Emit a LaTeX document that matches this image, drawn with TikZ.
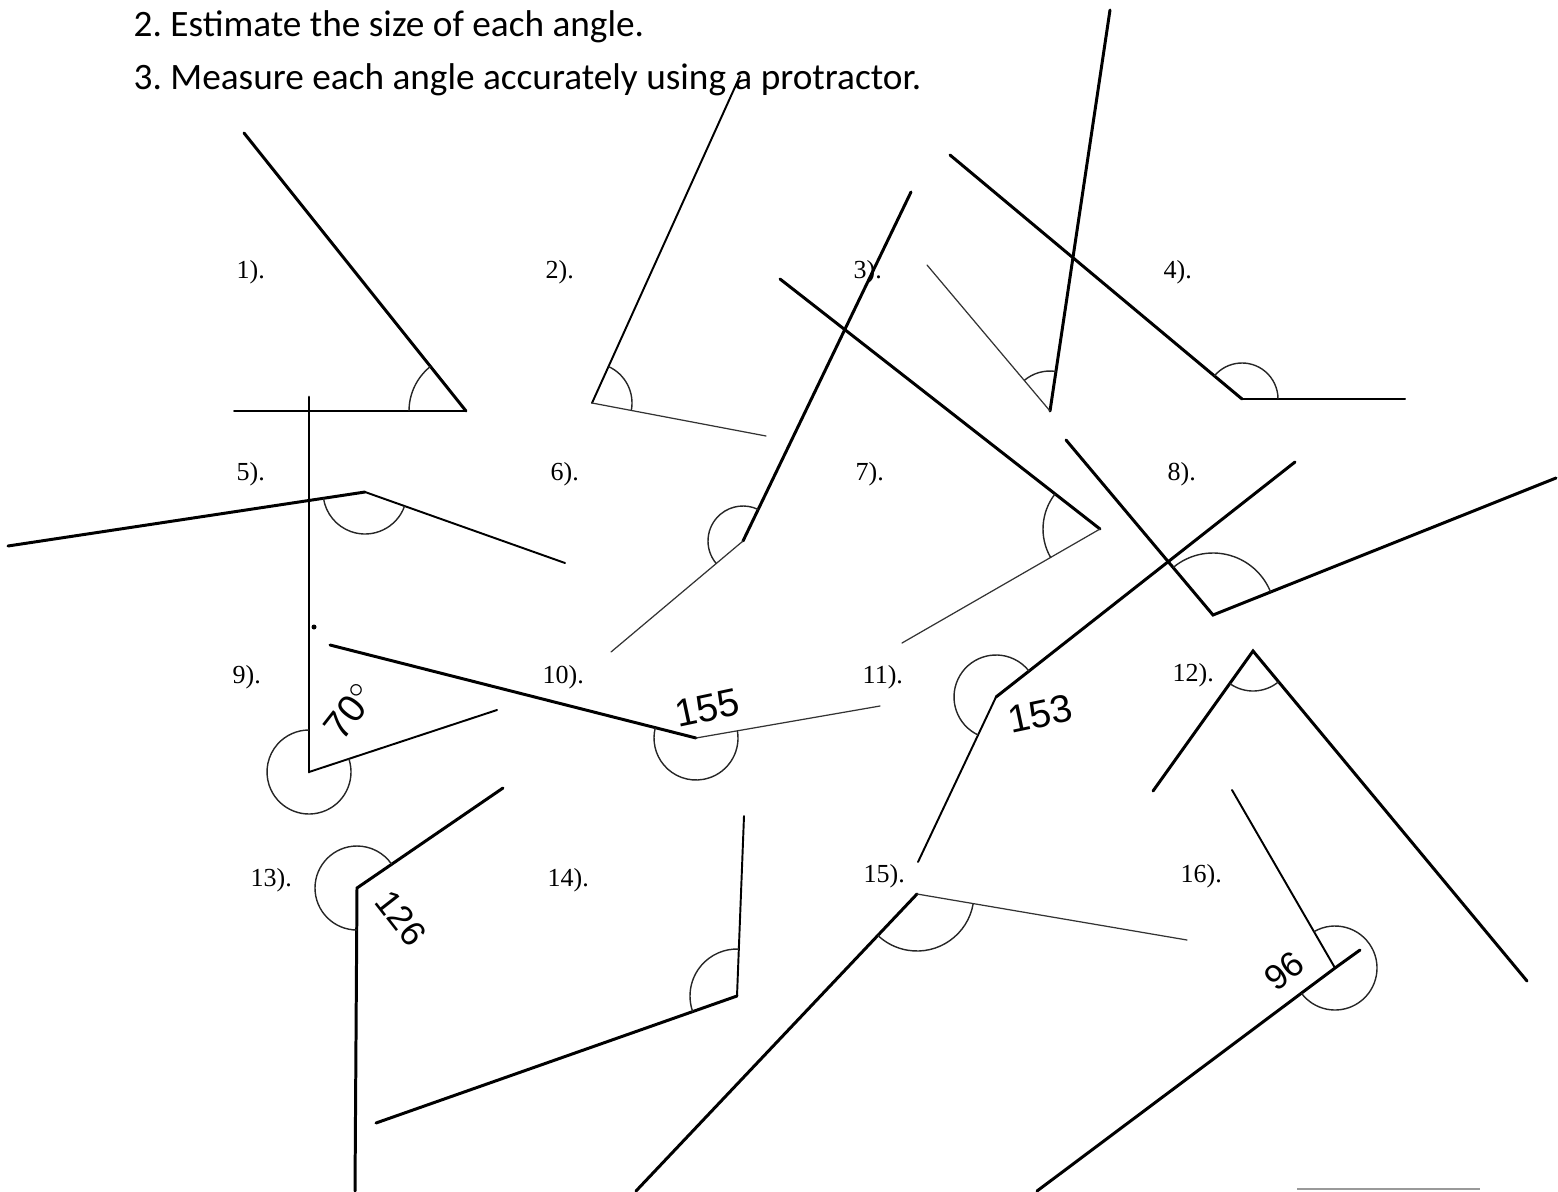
\documentclass[tikz,border=0pt]{standalone}
\usepackage{fontspec}
\newfontfamily\instrfont{Carlito}
\newfontfamily\numfont{Liberation Serif}
\newfontfamily\handfont{Liberation Sans}

\begin{document}
\begin{tikzpicture}[
  x=0.01cm, y=-0.01cm,
  thickarm/.style={draw=black, line width=0.85pt, line cap=round},
  midarm/.style={draw=black, line width=0.55pt, line cap=round},
  thinarm/.style={draw=black!80, line width=0.35pt, line cap=round},
  anglearc/.style={draw=black!85, line width=0.4pt},
  lbl/.style={font=\numfont\fontsize{7.4}{8}\selectfont, anchor=base west, inner sep=0pt},
  instr/.style={font=\instrfont\fontsize{10.6}{12}\selectfont, anchor=base west, inner sep=0pt},
  hand/.style={font=\handfont\fontsize{11}{12}\selectfont, inner sep=0pt},
]
\useasboundingbox (0,0) rectangle (1558,1191);
% ====== INSTRUCTIONS ======
\node[instr] (q2) at (133,37) {2.\ Estimate the size of each angle.};
\node[instr] (q3) at (133,90) {3.\ Measure each angle accurately using a protractor.};
%
% ====== ROW 1 ======
\node[lbl] (l1) at (236,278) {1).};
\node[lbl] (l2) at (545,278) {2).};
\node[lbl] (l3) at (853,278) {3).};
\node[lbl] (l4) at (1163,278) {4).};
\coordinate (v1) at (466,411); \coordinate (a1) at (244,133); \coordinate (b1) at (234,411);
\coordinate (v2) at (592,403); \coordinate (a2) at (740,76);  \coordinate (b2) at (766,436);
\coordinate (v3) at (1050,411); \coordinate (a3) at (1110,10); \coordinate (b3) at (927,265);
\coordinate (v4) at (1242,399); \coordinate (a4) at (950,155); \coordinate (b4) at (1405,399);
\draw[thickarm] (a1) -- (v1); \draw[midarm] (v1) -- (b1);
\draw[midarm] (a2) -- (v2); \draw[thinarm] (v2) -- (b2);
\draw[thickarm] (a3) -- (v3); \draw[thinarm] (v3) -- (b3);
\draw[thickarm] (a4) -- (v4); \draw[midarm] (v4) -- (b4);
\draw[anglearc] (v1) ++(180:57) arc[start angle=180, end angle=231.4, radius=57];
\draw[anglearc] (v2) ++(-65.6:40) arc[start angle=-65.6, end angle=10.7, radius=40];
\draw[anglearc] (v3) ++(-130.1:40) arc[start angle=-130.1, end angle=-81.5, radius=40];
\draw[anglearc] (v4) ++(-140.1:36) arc[start angle=-140.1, end angle=0, radius=36];
%
% ====== ROW 2 ======
\node[lbl] (l5) at (236,480) {5).};
\node[lbl] (l6) at (550,480) {6).};
\node[lbl] (l7) at (855,480) {7).};
\node[lbl] (l8) at (1167,480) {8).};
\coordinate (v5) at (365,492); \coordinate (a5) at (8,546);   \coordinate (b5) at (565,563);
\coordinate (v6) at (743,541); \coordinate (a6) at (911,192); \coordinate (b6) at (611,652);
\coordinate (v7) at (1100,529); \coordinate (a7) at (780,279); \coordinate (b7) at (902,643);
\coordinate (v8) at (1213,615); \coordinate (a8) at (1066,440); \coordinate (b8) at (1556,478);
\draw[thickarm] (a5) -- (v5); \draw[midarm] (v5) -- (b5);
\draw[thickarm] (a6) -- (v6); \draw[thinarm] (v6) -- (b6);
\draw[thickarm] (a7) -- (v7); \draw[thinarm] (v7) -- (b7);
\draw[thickarm] (a8) -- (v8) -- (b8);
\draw[anglearc] (v5) ++(19.5:42) arc[start angle=19.5, end angle=171.4, radius=42];
\draw[anglearc] (v6) ++(139.9:35) arc[start angle=139.9, end angle=295.7, radius=35];
\draw[anglearc] (v7) ++(150:57) arc[start angle=150, end angle=218, radius=57];
\draw[anglearc] (v8) ++(230:62) arc[start angle=230, end angle=338.2, radius=62];
%
% ====== ROW 3 ======
\node[lbl] (l9) at (232,683) {9).};
\node[lbl] (l10) at (542,683) {10).};
\node[lbl] (l11) at (862,683) {11).};
\node[lbl] (l12) at (1172,681) {12).};
\coordinate (v9) at (309,772);  \coordinate (a9) at (309,397);  \coordinate (b9) at (497,710);
\coordinate (v10) at (696,738); \coordinate (a10) at (330,645); \coordinate (b10) at (880,706);
\coordinate (v11) at (996,697); \coordinate (a11) at (1295,462); \coordinate (b11) at (918,862);
\coordinate (v12) at (1253,651); \coordinate (a12) at (1153,791); \coordinate (b12) at (1527,981);
\draw[thickarm] (a9) -- (v9); \draw[midarm] (v9) -- (b9);
\draw[thickarm] (a10) -- (v10); \draw[thinarm] (v10) -- (b10);
\draw[thickarm] (a11) -- (v11); \draw[midarm] (v11) -- (b11);
\draw[thickarm] (a12) -- (v12) -- (b12);
\draw[anglearc] (v9) ++(-18.3:42) arc[start angle=-18.3, end angle=270, radius=42];
\draw[anglearc] (v10) ++(-9.9:42) arc[start angle=-9.9, end angle=194.3, radius=42];
\draw[anglearc] (v11) ++(115.3:42) arc[start angle=115.3, end angle=321.8, radius=42];
\draw[anglearc] (v12) ++(50.3:40) arc[start angle=50.3, end angle=125.5, radius=40];
\fill (314,627) circle[radius=2.5];
\node[hand, rotate=52] (h9) at (350,711) {70$^{\circ}$};
\node[hand, rotate=12] (h10) at (707,708) {155};
\node[hand, rotate=12] (h11) at (1040,714) {153};
%
% ====== ROW 4 ======
\node[lbl] (l13) at (250,886) {13).};
\node[lbl] (l14) at (547,886) {14).};
\node[lbl] (l15) at (863,882) {15).};
\node[lbl] (l16) at (1180,882) {16).};
\coordinate (v13) at (357,888); \coordinate (a13) at (503,788); \coordinate (b13) at (355,1191);
\coordinate (v14) at (737,996); \coordinate (a14) at (744,816); \coordinate (b14) at (376,1123);
\coordinate (v15) at (917,894); \coordinate (a15) at (636,1191); \coordinate (b15) at (1187,940);
\coordinate (v16) at (1335,968); \coordinate (a16) at (1232,790); \coordinate (b16) at (1037,1191);
\coordinate (c16) at (1360,950);
\draw[thickarm] (a13) -- (v13) -- (b13);
\draw[midarm] (a14) -- (v14); \draw[thickarm] (v14) -- (b14);
\draw[thickarm] (a15) -- (v15); \draw[thinarm] (v15) -- (b15);
\draw[midarm] (a16) -- (v16); \draw[thickarm] (b16) -- (v16) -- (c16);
\draw[anglearc] (v13) ++(90:42) arc[start angle=90, end angle=325.6, radius=42];
\draw[anglearc] (v14) ++(160.6:47) arc[start angle=160.6, end angle=272.2, radius=47];
\draw[anglearc] (v15) ++(9.7:57) arc[start angle=9.7, end angle=133.4, radius=57];
\draw[anglearc] (v16) ++(-119.7:42) arc[start angle=-119.7, end angle=143.2, radius=42];
\node[hand, rotate=-52, font=\handfont\fontsize{10}{11}\selectfont] (h13) at (401,918) {126};
\node[hand, rotate=38, font=\handfont\fontsize{10}{11}\selectfont] (h16) at (1284,971) {96};
%
\coordinate (g1) at (1297,1189); \coordinate (g2) at (1480,1189);
\draw[black!40, line width=0.5pt] (g1) -- (g2);
\end{tikzpicture}
\end{document}
